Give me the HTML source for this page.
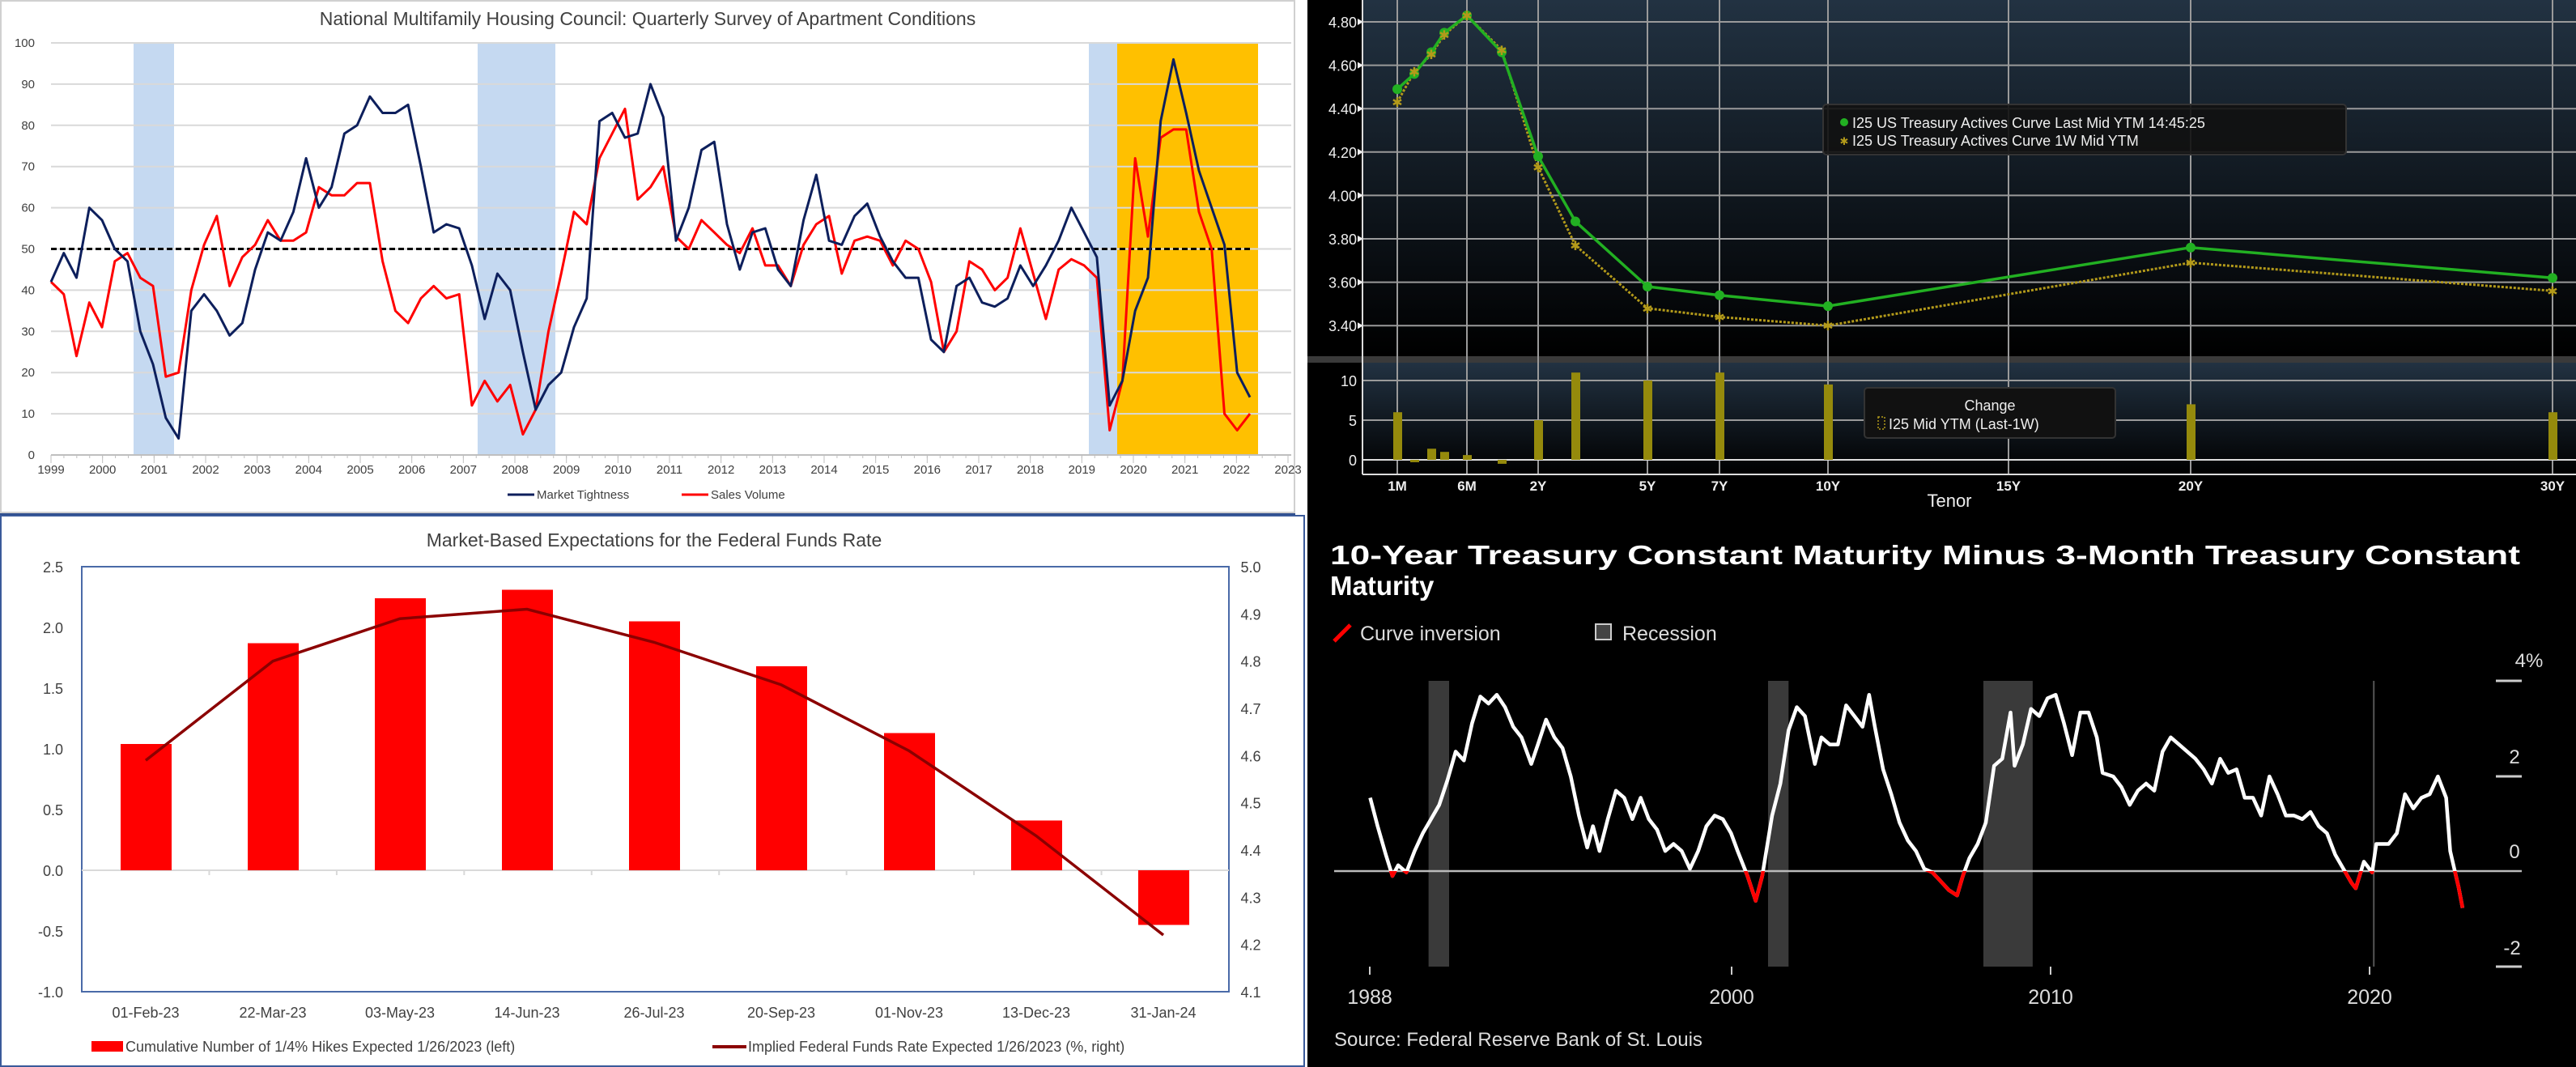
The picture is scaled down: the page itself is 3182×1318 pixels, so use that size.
<!DOCTYPE html>
<html><head><meta charset="utf-8"><style>
html,body{margin:0;padding:0;background:#fff;}
svg{display:block;}
</style></head><body>
<svg id="s" width="3182" height="1318" viewBox="0 0 3182 1318" xmlns="http://www.w3.org/2000/svg" font-family="Liberation Sans, sans-serif">
<defs>
<linearGradient id="g1" x1="0" y1="0" x2="0" y2="1"><stop offset="0" stop-color="#223242"/><stop offset="1" stop-color="#000"/></linearGradient>
<linearGradient id="g2" x1="0" y1="0" x2="0" y2="1"><stop offset="0" stop-color="#223242"/><stop offset="1" stop-color="#000"/></linearGradient>
<clipPath id="neg"><rect x="1600" y="1076" width="1582" height="200"/></clipPath>
</defs>
<rect width="3182" height="1318" fill="#fff"/>
<!-- TOP LEFT -->
<rect x="1" y="1" width="1598" height="632" fill="#fff" stroke="#d0d0d0" stroke-width="2"/>
<line x1="0" y1="635" x2="1600" y2="635" stroke="#2f4f8f" stroke-width="2"/>
<g id="tl"></g>
<text x="800" y="31" font-size="23" fill="#404040" text-anchor="middle">National Multifamily Housing Council: Quarterly Survey of Apartment Conditions</text>
<g font-size="15" fill="#404040" text-anchor="end" id="tly"></g>
<g font-size="15" fill="#404040" text-anchor="middle" id="tlx"></g>
<line x1="627" y1="611" x2="660" y2="611" stroke="#0d1f5c" stroke-width="3"/>
<text x="663" y="616" font-size="15" fill="#404040">Market Tightness</text>
<line x1="842" y1="611" x2="875" y2="611" stroke="#f00" stroke-width="3"/>
<text x="878" y="616" font-size="15" fill="#404040">Sales Volume</text>

<!-- RIGHT BLACK COLUMN -->
<rect x="1615" y="0" width="1567" height="1318" fill="#000"/>
<rect x="1683" y="0" width="1499" height="440" fill="url(#g1)"/>
<rect x="1683" y="448" width="1499" height="138" fill="url(#g2)"/>
<rect x="1615" y="440" width="1567" height="8" fill="#3a3a3a"/>
<g id="tr"></g>

<!-- BOTTOM LEFT -->
<rect x="1" y="637" width="1610" height="680" fill="#fff" stroke="#3a5a9a" stroke-width="2"/>
<g id="bl"></g>
<text x="808" y="675" font-size="23" fill="#404040" text-anchor="middle">Market-Based Expectations for the Federal Funds Rate</text>

<!-- BOTTOM RIGHT -->
<g id="br"></g>
<text x="1643" y="697" font-size="33" font-weight="bold" fill="#fff" textLength="1470" lengthAdjust="spacingAndGlyphs">10-Year Treasury Constant Maturity Minus 3-Month Treasury Constant</text>
<text x="1643" y="735" font-size="33" font-weight="bold" fill="#fff">Maturity</text>
<line x1="1648" y1="792" x2="1668" y2="772" stroke="#f00" stroke-width="5"/>
<text x="1680" y="791" font-size="25" fill="#ddd">Curve inversion</text>
<rect x="1971" y="771" width="19" height="19" fill="#444" stroke="#ccc" stroke-width="2"/>
<text x="2004" y="791" font-size="25" fill="#ddd">Recession</text>
<text x="3124" y="824" font-size="24" fill="#ddd" text-anchor="middle">4%</text>
<text x="3106" y="943" font-size="24" fill="#ddd" text-anchor="middle">2</text>
<text x="3106" y="1060" font-size="24" fill="#ddd" text-anchor="middle">0</text>
<text x="3103" y="1179" font-size="24" fill="#ddd" text-anchor="middle">-2</text>
<text x="1692" y="1240" font-size="25" fill="#ddd" text-anchor="middle">1988</text>
<text x="2139" y="1240" font-size="25" fill="#ddd" text-anchor="middle">2000</text>
<text x="2533" y="1240" font-size="25" fill="#ddd" text-anchor="middle">2010</text>
<text x="2927" y="1240" font-size="25" fill="#ddd" text-anchor="middle">2020</text>
<text x="1648" y="1292" font-size="24" fill="#ddd">Source: Federal Reserve Bank of St. Louis</text>
</svg>
<script>
var NS="http://www.w3.org/2000/svg";
function el(p,t,a,txt){var e=document.createElementNS(NS,t);for(var k in a)e.setAttribute(k,a[k]);if(txt!==undefined)e.textContent=txt;document.getElementById(p).appendChild(e);return e;}
function pts(a){return a.map(function(p){return p[0].toFixed(1)+","+p[1].toFixed(1)}).join(" ");}
// ---- Top-left
(function(){
var X0=63,X1=1591,Y=function(v){return 562-v*5.09;};
el("tl","rect",{x:165,y:53,width:50,height:509,fill:"#c5d9f1"});
el("tl","rect",{x:590,y:53,width:96,height:509,fill:"#c5d9f1"});
el("tl","rect",{x:1345,y:53,width:35,height:509,fill:"#c5d9f1"});
el("tl","rect",{x:1380,y:53,width:174,height:509,fill:"#ffc000"});
for(var v=10;v<=100;v+=10){el("tl","line",{x1:X0,x2:1595,y1:Y(v),y2:Y(v),stroke:"#d9d9d9","stroke-width":2});}
for(var v=0;v<=100;v+=10)el("tly","text",{x:43,y:Y(v)+5},String(v));
el("tl","line",{x1:X0,x2:1595,y1:Y(0),y2:Y(0),stroke:"#bfbfbf","stroke-width":2});
for(var i=0;i<=24;i++){var x=X0+i*(X1-X0)/24;el("tlx","text",{x:x,y:585},String(1999+i));
 el("tl","line",{x1:x,x2:x,y1:Y(0),y2:Y(0)+10,stroke:"#bfbfbf","stroke-width":1});}
for(var i=0;i<96;i++){var x=X0+i*(X1-X0)/96;el("tl","line",{x1:x,x2:x,y1:Y(0),y2:Y(0)+4,stroke:"#bfbfbf","stroke-width":1});}
el("tl","line",{x1:X0,x2:1545,y1:Y(50),y2:Y(50),stroke:"#000","stroke-width":3,"stroke-dasharray":"7,4"});
var b=[42,49,43,60,57,50,47,30,22,9,4,35,39,35,29,32,45,54,52,59,72,60,65,78,80,87,83,83,85,70,54,56,55,46,33,44,40,25,11,17,20,31,38,81,83,77,78,90,82,52,60,74,76,56,45,54,55,45,41,57,68,52,51,58,61,53,47,43,43,28,25,41,43,37,36,38,46,41,46,52,60,54,48,12,18,35,43,81,96,83,69,60,51,20,14];
var r=[42,39,24,37,31,47,49,43,41,19,20,40,51,58,41,48,51,57,52,52,54,65,63,63,66,66,47,35,32,38,41,38,39,12,18,13,17,5,11,30,44,59,56,72,78,84,62,65,70,53,50,57,54,51,49,55,46,46,41,51,56,58,44,52,53,52,46,52,50,42,25,30,47,45,40,43,55,44,33,45,47.5,46,43,6,18,72,53,77,79,79,59,50,10,6,10];
var xe=1544;
function ser(d,c){var a=[];for(var i=0;i<d.length;i++)a.push([X0+i*(xe-X0)/(d.length-1),Y(d[i])]);el("tl","polyline",{points:pts(a),fill:"none",stroke:c,"stroke-width":3,"stroke-linejoin":"round"});}
ser(r,"#ff0000");ser(b,"#0d1f5c");
})();
// ---- Top-right
(function(){
var Y=function(v){return 27+(4.80-v)/0.2*53.6;};
var tx={"1M":1726,"6M":1812,"2Y":1900,"5Y":2035,"7Y":2124,"10Y":2258,"15Y":2481,"20Y":2706,"30Y":3153};
for(var k in tx){el("tr","line",{x1:tx[k],x2:tx[k],y1:0,y2:586,stroke:"#9a9a9a","stroke-width":2});
 el("tr","text",{x:tx[k],y:606,"font-size":17,fill:"#eee","text-anchor":"middle","font-weight":"bold"},k);}
for(var v=3.4;v<=4.81;v+=0.2){var y=Y(v);el("tr","line",{x1:1683,x2:3182,y1:y,y2:y,stroke:"#9a9a9a","stroke-width":2});
 el("tr","text",{x:1676,y:y+7,"font-size":18,fill:"#eee","text-anchor":"end"},v.toFixed(2));
 el("tr","polygon",{points:(1677)+","+(y-4)+" 1684,"+y+" 1677,"+(y+4),fill:"#eee"});}
[[10,470],[5,519],[0,568]].forEach(function(p){el("tr","line",{x1:1683,x2:3182,y1:p[1],y2:p[1],stroke:p[0]==0?"#ddd":"#9a9a9a","stroke-width":2});
 el("tr","text",{x:1676,y:p[1]+7,"font-size":18,fill:"#eee","text-anchor":"end"},String(p[0]));});
el("tr","line",{x1:1683,x2:1683,y1:0,y2:586,stroke:"#ddd","stroke-width":2});
el("tr","line",{x1:1683,x2:3182,y1:586,y2:586,stroke:"#ddd","stroke-width":2});
el("tr","text",{x:2408,y:626,"font-size":22,fill:"#eee","text-anchor":"middle"},"Tenor");
var xs=[1726,1747,1768,1784,1812,1855,1900,1946,2035,2124,2258,2706,3153];
var g=[4.49,4.56,4.66,4.75,4.83,4.66,4.18,3.88,3.58,3.54,3.49,3.76,3.62];
var yv=[4.43,4.57,4.65,4.74,4.83,4.67,4.13,3.77,3.48,3.44,3.40,3.69,3.56];
var ch=[6,-0.3,1.4,1,0.6,-0.5,5,11,10,11,9.5,7,6];
for(var i=0;i<xs.length;i++){var h=ch[i]*9.8;el("tr","rect",{x:xs[i]-5,y:h>0?568-h:568,width:11,height:Math.abs(h),fill:"#958a0c"});}
var a=[],c=[];for(var i=0;i<xs.length;i++){a.push([xs[i],Y(g[i])]);c.push([xs[i],Y(yv[i])]);}
el("tr","polyline",{points:pts(c),fill:"none",stroke:"#b39a1a","stroke-width":3,"stroke-dasharray":"3,2"});
el("tr","polyline",{points:pts(a),fill:"none",stroke:"#22b022","stroke-width":3.5});
for(var i=0;i<xs.length;i++){el("tr","circle",{cx:xs[i],cy:Y(g[i]),r:6,fill:"#22b022"});el("tr","text",{x:xs[i],y:Y(yv[i])+6,"font-size":16,fill:"#b39a1a","text-anchor":"middle"},"✱");}
el("tr","rect",{x:2252,y:129,width:646,height:62,rx:4,fill:"#111",stroke:"#333","stroke-width":2,"fill-opacity":0.9});
el("tr","circle",{cx:2278,cy:151,r:5,fill:"#22b022"});
el("tr","text",{x:2288,y:158,"font-size":18,fill:"#eee"},"I25 US Treasury Actives Curve Last Mid YTM 14:45:25");
el("tr","text",{x:2278,y:179,"font-size":13,fill:"#b39a1a","text-anchor":"middle"},"✱");
el("tr","text",{x:2288,y:180,"font-size":18,fill:"#eee"},"I25 US Treasury Actives Curve 1W Mid YTM");
el("tr","rect",{x:2303,y:479,width:310,height:62,rx:4,fill:"#111",stroke:"#333","stroke-width":2});
el("tr","text",{x:2458,y:507,"font-size":18,fill:"#eee","text-anchor":"middle"},"Change");
el("tr","rect",{x:2320,y:515,width:8,height:15,fill:"none",stroke:"#b39a1a","stroke-width":1.5,"stroke-dasharray":"2,2"});
el("tr","text",{x:2333,y:530,"font-size":18,fill:"#eee"},"I25 Mid YTM (Last-1W)");
})();
// ---- Bottom-left
(function(){
var L=101,R=1518,T=700,B=1225;
var YL=function(v){return 1075-v*150;}, YR=function(v){return 1225-(v-4.1)*583.3;};
el("bl","rect",{x:L,y:T,width:R-L,height:B-T,fill:"none",stroke:"#4a6aa8","stroke-width":2});
el("bl","line",{x1:L,x2:R,y1:YL(0),y2:YL(0),stroke:"#d9d9d9","stroke-width":2});
for(var i=0;i<=8;i++){var x=L+(i+1)*(R-L)/9;if(i<8)el("bl","line",{x1:x,x2:x,y1:YL(0),y2:YL(0)+6,stroke:"#d9d9d9","stroke-width":2});}
var lv=["2.5","2.0","1.5","1.0","0.5","0.0","-0.5","-1.0"];
for(var i=0;i<8;i++){el("bl","text",{x:78,y:T+i*75+7,"font-size":18,fill:"#404040","text-anchor":"end"},lv[i]);}
for(var i=0;i<=9;i++){el("bl","text",{x:1545,y:T+i*58.33+7,"font-size":18,fill:"#404040","text-anchor":"middle"},(5.0-i*0.1).toFixed(1));}
var xs=[180,337,494,651,808,965,1123,1280,1437];
var lab=["01-Feb-23","22-Mar-23","03-May-23","14-Jun-23","26-Jul-23","20-Sep-23","01-Nov-23","13-Dec-23","31-Jan-24"];
var bv=[1.04,1.87,2.24,2.31,2.05,1.68,1.13,0.41,-0.45];
var lv2=[4.59,4.80,4.89,4.91,4.84,4.75,4.61,4.43,4.22];
var a=[];
for(var i=0;i<9;i++){var y=YL(bv[i]);el("bl","rect",{x:xs[i]-31,y:Math.min(y,YL(0)),width:63,height:Math.abs(y-YL(0)),fill:"#ff0000"});
 el("bl","text",{x:xs[i],y:1257,"font-size":18,fill:"#404040","text-anchor":"middle"},lab[i]);a.push([xs[i],YR(lv2[i])]);}
el("bl","polyline",{points:pts(a),fill:"none",stroke:"#8b0000","stroke-width":3.5});
el("bl","rect",{x:113,y:1286,width:39,height:13,fill:"#f00"});
el("bl","text",{x:155,y:1299,"font-size":18,fill:"#404040"},"Cumulative Number of 1/4% Hikes Expected 1/26/2023 (left)");
el("bl","line",{x1:880,x2:922,y1:1293,y2:1293,stroke:"#8b0000","stroke-width":4});
el("bl","text",{x:924,y:1299,"font-size":18,fill:"#404040"},"Implied Federal Funds Rate Expected 1/26/2023 (%, right)");
})();
// ---- Bottom-right
(function(){
var X=function(z){return 1590+z*1.0153;},Y=function(z){return 630+z*0.4388;};
[[172,197],[585,610],[847,907]].forEach(function(p){el("br","rect",{x:X(p[0]),y:841,width:X(p[1])-X(p[0]),height:353,fill:"#3a3a3a"});});
el("br","line",{x1:X(1322),x2:X(1322),y1:841,y2:1194,stroke:"#555","stroke-width":2});
el("br","line",{x1:1648,x2:3115,y1:1076,y2:1076,stroke:"#bbb","stroke-width":2.5});
[841,959,1194].forEach(function(y){el("br","line",{x1:3083,x2:3115,y1:y,y2:y,stroke:"#ccc","stroke-width":3});});
[1692,2139,2533,2927].forEach(function(x){el("br","line",{x1:x,x2:x,y1:1194,y2:1204,stroke:"#ccc","stroke-width":2});});
var z=[[101,810],[110,890],[120,970],[128,1030],[135,1000],[145,1020],[155,960],[165,910],[175,870],[185,830],[195,760],[205,680],[215,705],[225,600],[235,525],[245,545],[255,520],[265,555],[275,610],[285,640],[297,715],[305,660],[315,590],[325,640],[335,670],[345,750],[355,860],[365,950],[372,890],[380,960],[390,870],[400,790],[410,810],[420,870],[430,810],[440,870],[450,900],[460,960],[470,940],[480,960],[490,1010],[500,960],[510,890],[520,860],[530,870],[540,910],[548,960],[560,1030],[570,1100],[578,1030],[590,860],[600,770],[610,620],[620,555],[630,580],[642,715],[650,640],[660,660],[670,660],[680,550],[690,580],[700,610],[708,520],[715,610],[725,730],[735,800],[745,880],[755,930],[765,960],[775,1010],[785,1020],[795,1045],[805,1070],[815,1085],[822,1030],[830,980],[840,940],[850,880],[860,720],[870,700],[880,570],[885,720],[895,660],[905,560],[915,580],[925,530],[935,520],[945,600],[955,690],[965,570],[975,570],[985,640],[992,740],[1005,750],[1015,780],[1025,830],[1035,790],[1045,770],[1055,790],[1065,680],[1075,640],[1085,660],[1095,680],[1105,700],[1115,730],[1125,770],[1135,700],[1145,740],[1155,730],[1165,810],[1175,810],[1185,860],[1195,750],[1205,800],[1215,860],[1225,860],[1235,870],[1245,850],[1255,890],[1265,910],[1275,970],[1285,1010],[1295,1050],[1300,1065],[1310,990],[1320,1020],[1325,940],[1340,940],[1350,910],[1360,800],[1370,840],[1380,810],[1390,800],[1400,750],[1410,810],[1415,960],[1420,1010],[1425,1060],[1430,1120]];
var p=z.map(function(q){return [X(q[0]),Y(q[1])];});
el("br","polyline",{points:pts(p),fill:"none",stroke:"#fff","stroke-width":4.5,"stroke-linejoin":"round"});
el("br","polyline",{points:pts(p),fill:"none",stroke:"#f00","stroke-width":4.5,"stroke-linejoin":"round","clip-path":"url(#neg)"});
})();
</script>
</body></html>
